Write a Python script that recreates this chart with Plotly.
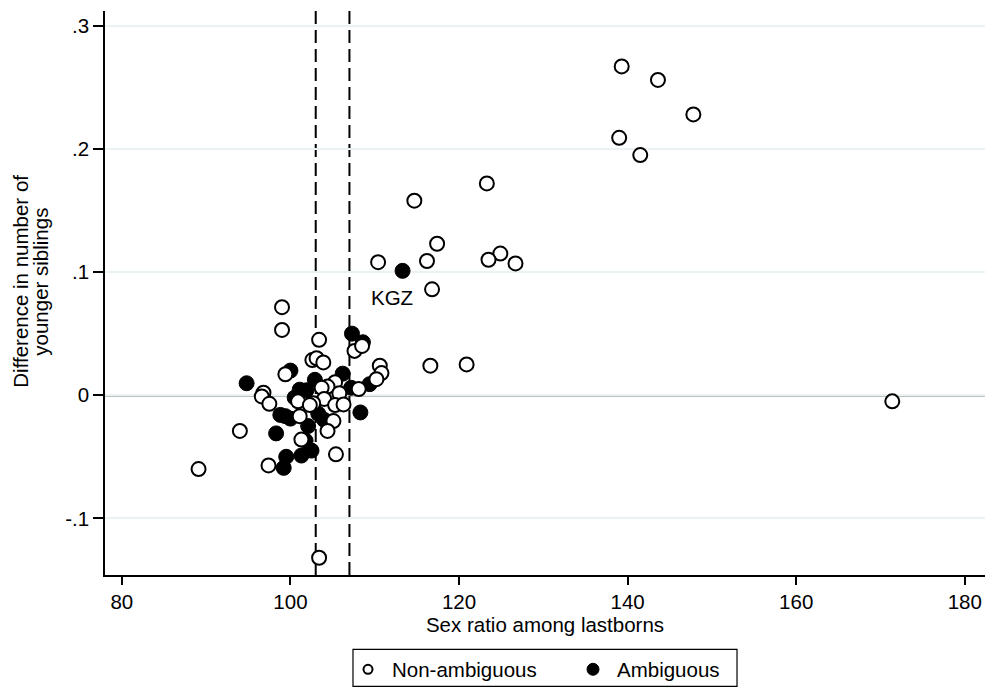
import plotly.graph_objects as go

# Non-ambiguous countries
nonamb_x = [139.3, 143.6, 147.8, 139.0, 141.5,
            123.3, 114.7, 117.4, 124.9, 123.5, 126.7, 116.2, 110.4, 116.8,
            171.4, 116.6, 120.9,
            99.0, 99.0, 103.4, 102.6, 103.1, 103.9, 107.6, 108.5,
            110.6, 110.8, 110.2, 108.1,
            96.8, 96.6, 97.5, 99.4,
            105.3, 104.4, 103.7, 105.8, 104.0, 102.7, 105.3, 106.3,
            100.9, 102.3, 101.1, 105.1, 104.4, 94.0, 101.3, 105.4, 97.4, 89.1, 103.4]
nonamb_y = [0.267, 0.256, 0.228, 0.209, 0.195,
            0.172, 0.158, 0.123, 0.115, 0.110, 0.107, 0.109, 0.108, 0.086,
            -0.005, 0.024, 0.025,
            0.0715, 0.053, 0.045, 0.0285, 0.030, 0.0266, 0.036, 0.040,
            0.024, 0.018, 0.013, 0.005,
            0.002, -0.001, -0.007, 0.017,
            0.0105, 0.007, 0.006, 0.0016, -0.003, -0.0065, -0.008, -0.0075,
            -0.005, -0.008, -0.017, -0.021, -0.029, -0.029, -0.036, -0.048, -0.057, -0.060, -0.132]

# Ambiguous countries
amb_x = [113.3, 107.3, 108.6, 109.4, 107.2, 94.8, 100.0, 102.9, 106.2,
         101.1, 101.9, 100.5, 98.8, 99.4, 100.0, 103.3, 104.0, 108.3, 102.1,
         98.3, 101.8, 102.5, 99.5, 101.3, 99.2]
amb_y = [0.101, 0.050, 0.043, 0.009, 0.006, 0.0097, 0.020, 0.0125, 0.0175,
         0.0045, 0.004, -0.002, -0.016, -0.017, -0.019, -0.015, -0.020, -0.014, -0.025,
         -0.031, -0.037, -0.045, -0.050, -0.049, -0.059]

vlines = [103, 107]
x_ticks = [80, 100, 120, 140, 160, 180]
y_ticks = [-0.1, 0, 0.1, 0.2, 0.3]
y_ticklabels = ["-.1", "0", ".1", ".2", ".3"]
y_title_lines = ["Difference in number of", "younger siblings"]

FONT = "Liberation Sans, Arial, sans-serif"
FS = 20.5

fig = go.Figure()
fig.add_trace(go.Scatter(
    x=amb_x, y=amb_y, mode="markers", name="Ambiguous", showlegend=False,
    marker=dict(symbol="circle", size=15, color="black", line=dict(color="black", width=1)),
))
fig.add_trace(go.Scatter(
    x=nonamb_x, y=nonamb_y, mode="markers", name="Non-ambiguous", showlegend=False,
    marker=dict(symbol="circle", size=14, color="white", line=dict(color="black", width=2)),
))
# legend entries (smaller symbols, as in the reference key)
fig.add_trace(go.Scatter(
    x=[None], y=[None], mode="markers", name="Non-ambiguous", legend="legend",
    marker=dict(symbol="circle", size=9, color="white", line=dict(color="black", width=2)),
))
fig.add_trace(go.Scatter(
    x=[None], y=[None], mode="markers", name="Ambiguous", legend="legend2",
    marker=dict(symbol="circle", size=12, color="black", line=dict(color="black", width=1)),
))

for v in vlines:
    fig.add_shape(type="line", x0=v, x1=v, y0=0, y1=1, yref="paper", xref="x",
                  line=dict(color="black", width=2, dash="13px,6px"), layer="below")
fig.add_shape(type="line", x0=0, x1=1, xref="paper", y0=0, y1=0, yref="y",
              line=dict(color="black", width=2), layer="below")
# legend frame
fig.add_shape(type="rect", xref="paper", yref="paper",
              x0=0.2818, x1=0.7182, y0=-0.1975, y1=-0.1317,
              line=dict(color="black", width=1.2), fillcolor="rgba(0,0,0,0)")

fig.add_annotation(x=112.1, y=0.079, text="KGZ", showarrow=False,
                   font=dict(size=FS, color="black", family=FONT))

# y-axis title (two lines, tight spacing)
for txt, px in zip(y_title_lines, [21, 41]):
    fig.add_annotation(x=(px - 105) / 880, y=0.52, xref="paper", yref="paper",
                       text=txt, textangle=-90, showarrow=False,
                       xanchor="center", yanchor="middle",
                       font=dict(size=FS, color="black", family=FONT))

leg_common = dict(orientation="h", yanchor="middle", y=-0.1675, xanchor="left",
                  bgcolor="rgba(0,0,0,0)", borderwidth=0, font=dict(size=FS),
                  itemsizing="trace", itemwidth=38)

fig.update_layout(
    width=988, height=693,
    margin=dict(l=105, r=3, t=11, b=115),
    paper_bgcolor="white", plot_bgcolor="white",
    font=dict(family=FONT, size=FS, color="black"),
    showlegend=True,
    legend=dict(x=(344 - 105) / 880, **leg_common),
    legend2=dict(x=(569 - 105) / 880, **leg_common),
    xaxis=dict(range=[78.0, 182.4], tickvals=x_ticks, showgrid=False, zeroline=False,
               automargin=False,
               showline=True, linecolor="black", linewidth=1.5, ticks="outside",
               ticklen=8, tickcolor="black", tickwidth=1.5, tickfont=dict(size=FS),
               title=dict(text="Sex ratio among lastborns", font=dict(size=FS), standoff=3)),
    yaxis=dict(range=[-0.146, 0.312], tickvals=y_ticks, ticktext=y_ticklabels,
               automargin=False,
               showgrid=True, gridcolor="#eaf2f3", gridwidth=1.5, zeroline=False,
               showline=True, linecolor="black", linewidth=1.5, ticks="outside",
               ticklen=10, tickcolor="black", tickwidth=1.5, tickfont=dict(size=FS)),
)

fig.write_html("out.html", config={"displayModeBar": False},
               post_script="document.body.style.margin='0';")
